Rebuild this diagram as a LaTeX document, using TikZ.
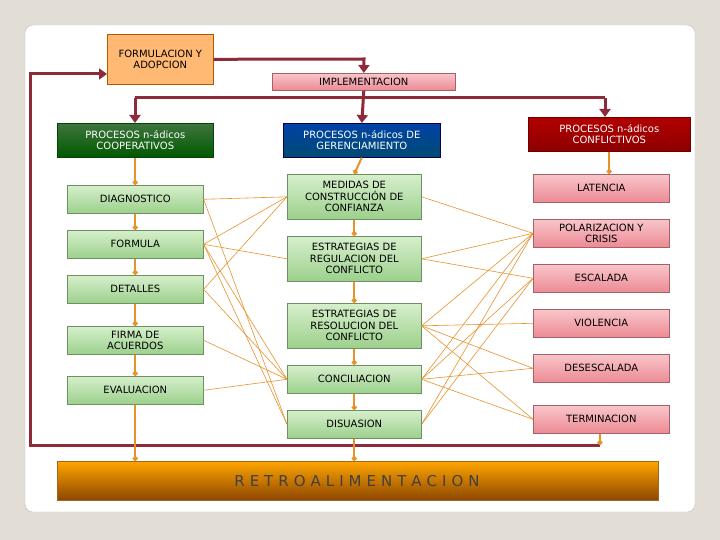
\documentclass[tikz,border=0pt]{standalone}
\usepackage{fontspec}
\setmainfont{DejaVu Sans}
\usetikzlibrary{arrows.meta}
\definecolor{bg}{HTML}{E2DED6}
\definecolor{wine}{HTML}{8E2B3A}
\definecolor{org}{HTML}{E8922A}
\definecolor{gbox}{HTML}{9CD08C}
\definecolor{gboxb}{HTML}{D6EFCC}
\definecolor{rbox}{HTML}{EC8A94}
\definecolor{rboxb}{HTML}{F8C6CA}
\begin{document}
\begin{tikzpicture}[x=1pt,y=-1pt,
  box/.style={draw=#1!70!black,line width=0.6pt,inner sep=0pt,anchor=north west,align=center,font=\fontsize{10}{11.5}\selectfont},
  gb/.style={box=gbox,top color=gboxb,bottom color=gbox},
  rb/.style={box=rbox,top color=rboxb,bottom color=rbox},
  big/.style={line width=3pt,draw=wine,-{Triangle[length=8pt,width=11pt]}},
  thick wine/.style={line width=3pt,draw=wine},
  oa/.style={line width=2pt,draw=org,-{Circle[length=5pt]}},
  thin/.style={draw=org,line width=0.6pt}]
\fill[bg] (0,0) rectangle (720,540);
\fill[white,draw=gray!50,rounded corners=8pt] (25,25) rectangle (695,512);
% header
\node[box=orange,fill=orange!55!white,minimum width=106pt,minimum height=50pt] (fa) at (107,34) {FORMULACION Y\\ADOPCION};
\node[rb,minimum width=183pt,minimum height=17pt] (imp) at (272,73) {IMPLEMENTACION};
\node[box=green!40!black,text=white,top color=green!30!gray!70!black,bottom color=green!35!black,minimum width=156pt,minimum height=34pt] (coop) at (57,123) {PROCESOS n-ádicos\\COOPERATIVOS};
\node[box=blue!50!black,text=white,top color=cyan!40!blue!65!black,bottom color=blue!35!cyan!45!black,minimum width=157pt,minimum height=34pt] (ger) at (283,123) {PROCESOS n-ádicos DE\\GERENCIAMIENTO};
\node[box=red!60!black,text=white,top color=red!70!black,bottom color=red!55!black,minimum width=162pt,minimum height=34pt] (conf) at (528,117) {PROCESOS n-ádicos\\CONFLICTIVOS};
% left
\node[gb,minimum width=136pt,minimum height=28pt] (diag) at (67,185) {DIAGNOSTICO};
\node[gb,minimum width=136pt,minimum height=28pt] (form) at (67,230) {FORMULA};
\node[gb,minimum width=136pt,minimum height=28pt] (det) at (67,275) {DETALLES};
\node[gb,minimum width=136pt,minimum height=28pt] (firma) at (67,326) {FIRMA DE\\ACUERDOS};
\node[gb,minimum width=136pt,minimum height=28pt] (eval) at (67,376) {EVALUACION};
% middle
\node[gb,minimum width=134pt,minimum height=45pt] (med) at (287,174) {MEDIDAS DE\\CONSTRUCCIÓN DE\\CONFIANZA};
\node[gb,minimum width=134pt,minimum height=45pt] (reg) at (287,236) {ESTRATEGIAS DE\\REGULACION DEL\\CONFLICTO};
\node[gb,minimum width=134pt,minimum height=45pt] (res) at (287,303) {ESTRATEGIAS DE\\RESOLUCION DEL\\CONFLICTO};
\node[gb,minimum width=134pt,minimum height=28pt] (conc) at (287,365) {CONCILIACION};
\node[gb,minimum width=134pt,minimum height=28pt] (dis) at (287,410) {DISUASION};
% right
\node[rb,minimum width=136pt,minimum height=28pt] (lat) at (533,174) {LATENCIA};
\node[rb,minimum width=136pt,minimum height=28pt] (pol) at (533,219) {POLARIZACION Y\\CRISIS};
\node[rb,minimum width=136pt,minimum height=28pt] (esc) at (533,264) {ESCALADA};
\node[rb,minimum width=136pt,minimum height=28pt] (vio) at (533,309) {VIOLENCIA};
\node[rb,minimum width=136pt,minimum height=28pt] (des) at (533,354) {DESESCALADA};
\node[rb,minimum width=136pt,minimum height=28pt] (ter) at (533,405) {TERMINACION};
% retro
\node[draw=org!70!black,top color=orange!70!yellow,bottom color=orange!55!black,anchor=north west,minimum width=601pt,minimum height=39pt,inner sep=0pt] (retro) at (57,461) {};
\node[font=\fontsize{15}{17}\selectfont,text=black!75] (rt) at (357,481) {R\,\,E\,\,T\,\,R\,\,O\,\,A\,\,L\,\,I\,\,M\,\,E\,\,N\,\,T\,\,A\,\,C\,\,I\,\,O\,\,N};
% wine connectors
\draw[big] (fa.east) -- (364,59) -- (imp.north);
\coordinate (bl) at (135,98);\coordinate (br) at (605,98);
\draw[thick wine] (bl) -- (br);
\draw[big] (imp.south) -- (ger.north);
\draw[big] (bl) -- (coop.north-|bl);
\draw[big] (br) -- (conf.north-|br);
\coordinate (fb1) at (600,445);\coordinate (fb2) at (30,445);\coordinate (fb3) at (30,74);
\draw[big] (fb1) -- (fb2) -- (fb3) -- (fa.west|-fb3);
% orange chains
\draw[oa] (coop.south-|diag) -- (diag);
\draw[oa] (diag) -- (form); \draw[oa] (form) -- (det); \draw[oa] (det) -- (firma); \draw[oa] (firma) -- (eval);
\draw[oa] (eval.south) -- (eval.south|-retro.north);
\draw[oa] (ger.south) -- (med.north);
\draw[oa] (med) -- (reg); \draw[oa] (reg) -- (res); \draw[oa] (res) -- (conc); \draw[oa] (conc) -- (dis);
\draw[oa] (dis.south) -- (dis.south|-retro.north);
\draw[oa] (conf.south) -- (lat.north-|conf.south);
\draw[oa] (ter.south-|fb1) -- (fb1);
% thin cross lines
\foreach \a/\b in {diag/med,diag/dis,form/med,form/reg,form/conc,form/dis,det/med,det/conc,firma/conc,eval/conc}
  \draw[thin] (\a.east) -- (\b.west);
\foreach \a/\b in {med/pol,reg/pol,reg/esc,res/pol,res/vio,res/des,res/ter,conc/pol,conc/esc,conc/des,conc/ter,dis/pol,dis/esc}
  \draw[thin] (\a.east) -- (\b.west);
\end{tikzpicture}
\end{document}
